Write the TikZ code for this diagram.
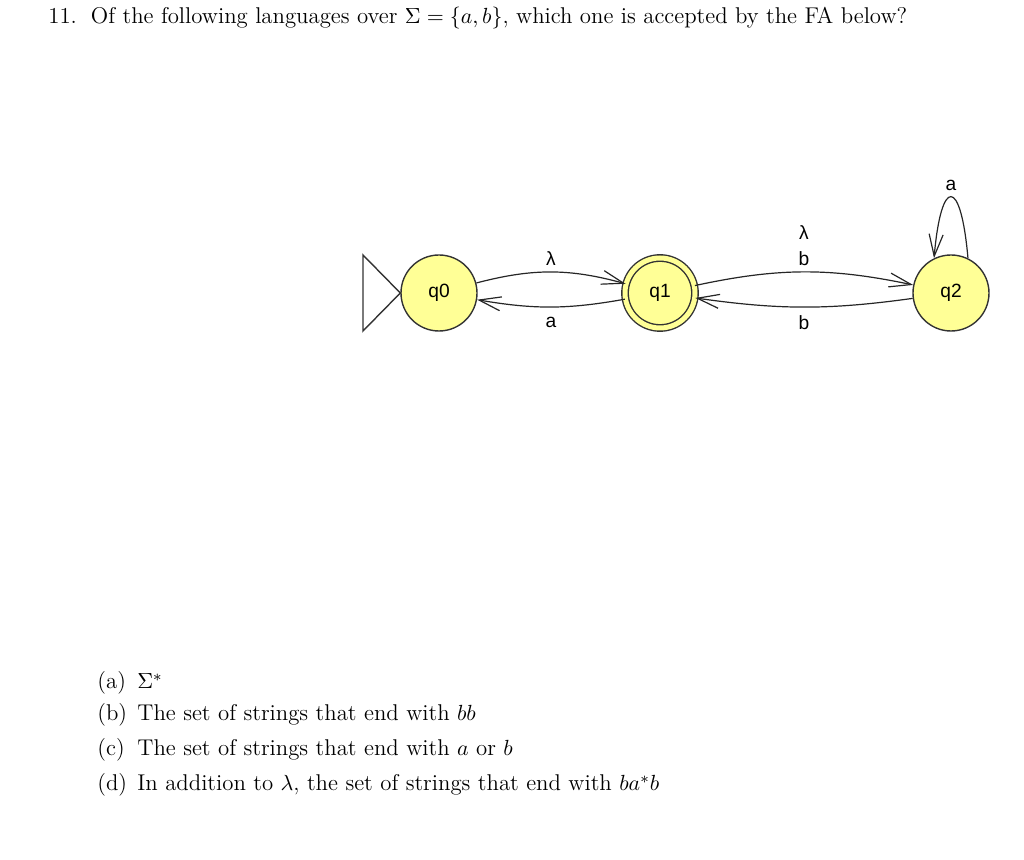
\documentclass[tikz,border=0pt]{standalone}
\usepackage{fontspec}
\newfontfamily\jflapfont{Liberation Sans}
\usetikzlibrary{arrows.meta}

\definecolor{stateyellow}{RGB}{255,255,150}
\newcommand{\qsize}{\fontsize{11.4}{14}\selectfont}
\newcommand{\fasize}{\jflapfont\fontsize{9.6}{13}\selectfont}

\tikzset{
  state/.style={circle, draw=black!80, fill=stateyellow, line width=0.7pt,
    minimum size=38pt, inner sep=0pt, font=\fasize},
  final/.style={state, minimum size=35pt, double=stateyellow, double distance=2.5pt},
  trans/.style={draw=black!85, line width=0.6pt, -{Straight Barb[length=11pt,width=7pt]}},
  tlabel/.style={font=\fasize, inner sep=1pt, align=center},
  qtext/.style={anchor=base west, inner sep=0pt, font=\qsize},
}

\begin{document}
\begin{tikzpicture}[x=0.5pt,y=0.5pt]
  \useasboundingbox (0,0) rectangle (1024,-860);

  % question
  \node[qtext] (title) at (48,-24)
    {11.\hspace{7pt}Of the following languages over $\Sigma=\{a,b\}$, which one is accepted by the FA below?};

  % automaton
  \node[state] (q0) at (439,-293) {q0};
  \node[final] (q1) at (660,-293) {q1};
  \node[state] (q2) at (951,-293) {q2};
  \draw[draw=black!80, line width=0.7pt] (q0.west) -- (363,-255) -- (363,-331) -- cycle;

  \draw[trans] (q0) to[bend left=15] node[tlabel, above=2pt] {λ} (q1);
  \draw[trans] (q1) to[bend left=10] node[tlabel, below=4pt] {a} (q0);
  \draw[trans] (q1) to[bend left=12] node[tlabel, above=2pt] {λ\\b} (q2);
  \draw[trans] (q2) to[bend left=8] node[tlabel, below=3pt] {b} (q1);
  \draw[trans] (q2.64) to[out=95, in=85, looseness=6.2] node[tlabel, above=2pt] {a} (q2.116);

  % answers
  \node[qtext] (la) at (97,-689) {(a)};
  \node[qtext] (ta) at (137,-689) {$\Sigma^*$};
  \node[qtext] (lb) at (97,-721) {(b)};
  \node[qtext] (tb) at (137,-721) {The set of strings that end with $bb$};
  \node[qtext] (lc) at (97,-756) {(c)};
  \node[qtext] (tc) at (137,-756) {The set of strings that end with $a$ or $b$};
  \node[qtext] (ld) at (97,-791) {(d)};
  \node[qtext] (td) at (137,-791) {In addition to $\lambda$, the set of strings that end with $ba^*b$};
\end{tikzpicture}
\end{document}
